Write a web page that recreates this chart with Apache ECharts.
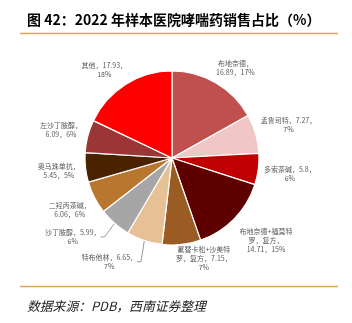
<!DOCTYPE html>
<html><head><meta charset="utf-8">
<script src="https://cdn.jsdelivr.net/npm/echarts@6/dist/echarts.min.js"></script>
<style>html,body{margin:0;padding:0;background:#fff}#c{width:352px;height:323px}</style>
</head><body><div id="c"></div>
<script>
const names = ['布地奈德','孟鲁司特','多索茶碱','布地奈德+福莫特罗，复方','氟替卡松+沙美特罗，复方','特布他林','沙丁胺醇','二羟丙茶碱','奥马珠单抗','左沙丁胺醇','其他'];
const labelNames = ['布地奈德','孟鲁司特','多索茶碱','布地奈德+福莫特\n罗，复方','氟替卡松+沙美特\n罗，复方','特布他林','沙丁胺醇','二羟丙茶碱','奥马珠单抗','左沙丁胺醇','其他'];
const values = [16.89, 7.27, 5.8, 14.71, 7.15, 6.65, 5.99, 6.06, 5.45, 6.09, 17.93];
const colors = ['#C0504D','#F0C6C6','#C00000','#5E0000','#9A5C22','#E8C096','#A6A6A6','#B8762E','#4B2200','#9B3536','#FF0000'];
// line-break style: 0 => "name，value，\npct%", 1 => "name，\nvalue，pct%"
const breakStyle = [1,0,0,1,0,0,0,1,1,1,0];

const CX = 172, CY = 158, R = 87, GAP = 5;
const nudge = {0:[8,4],3:[8,-2],4:[20,-7],5:[-28,0],6:[-22,-9],10:[-8,6]};
const total = values.reduce((a,b)=>a+b,0);
const mids = []; let cum = 0;
values.forEach(v=>{ mids.push(2*Math.PI*(cum+v/2)/total); cum+=v; });

const chart = echarts.init(document.getElementById('c'));
chart.setOption({
  animation:false,
  title:[{
    text:'图 42：2022 年样本医院哮喘药销售占比（%）', left:22, top:8,
    textStyle:{fontFamily:'Noto Sans CJK SC', fontSize:14, fontWeight:'bold', color:'#000'}
  },{
    text:'数据来源：PDB，西南证券整理', left:22, top:295,
    textStyle:{fontFamily:'Noto Sans CJK SC', fontSize:12.8, fontWeight:'normal', fontStyle:'italic', color:'#222'}
  }],
  graphic:[
    {type:'line', shape:{x1:20,y1:33.5,x2:338,y2:33.5}, style:{stroke:'#E0A454', lineWidth:1.5}},
    {type:'line', shape:{x1:20,y1:286.5,x2:338,y2:286.5}, style:{stroke:'#E0A454', lineWidth:1.5}}
  ],
  series:[{
    type:'pie', center:[CX,CY], radius:R, startAngle:90, clockwise:true,
    percentPrecision:0, avoidLabelOverlap:false,
    itemStyle:{borderColor:'#fff', borderWidth:1.2},
    label:{
      show:true, position:'outside', fontFamily:'Noto Sans CJK SC', fontSize:7, lineHeight:9, color:'#595959',
      formatter:function(p){
        const i=p.dataIndex;
        return breakStyle[i] ? labelNames[i]+'，\n'+p.value+'，'+p.percent+'%' : labelNames[i]+'，'+p.value+'，\n'+p.percent+'%';
      }
    },
    labelLine:{show:false, length:6, length2:4, lineStyle:{color:'#7F7F7F', width:0.8}},
    labelLayout:function(params){
      const i=params.dataIndex, w=params.labelRect.width, h=params.labelRect.height;
      const th=mids[i], s=Math.sin(th), c=Math.cos(th);
      const ext=Math.abs(s)*w/2+Math.abs(c)*h/2;
      const d=R+GAP+ext; const n=nudge[i]||[0,0];
      return {x:CX+d*s+n[0], y:CY-d*c+n[1], align:'center', verticalAlign:'middle'};
    },
    data: names.map((n,i)=>({name:n, value:values[i], itemStyle:{color:colors[i]}, labelLine:{show: i===5||i===6}}))
  }]
});
</script></body></html>
